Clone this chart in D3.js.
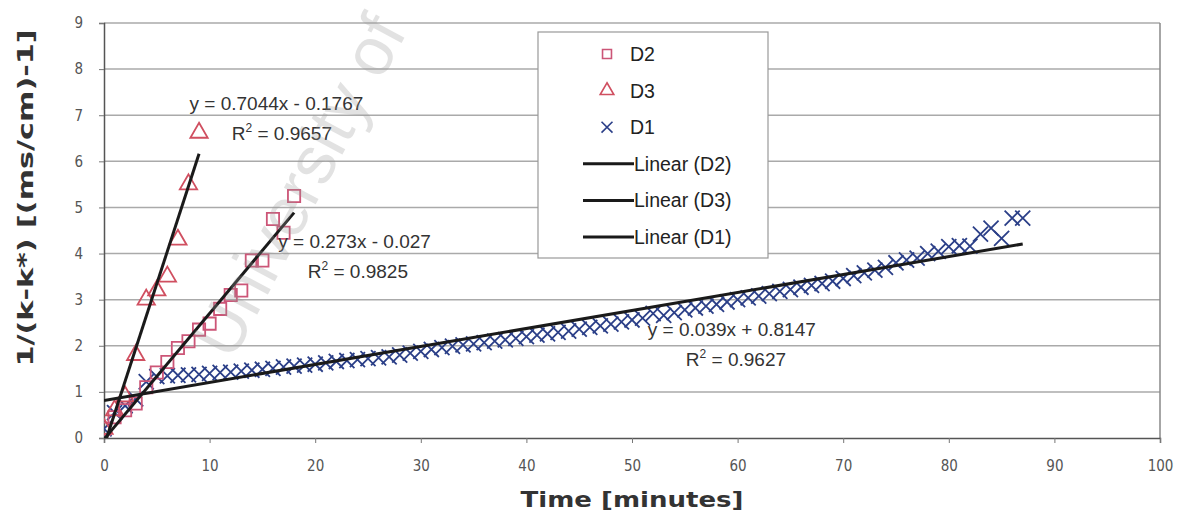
<!DOCTYPE html>
<html>
<head>
<meta charset="utf-8">
<script src="https://cdn.jsdelivr.net/npm/d3@7"></script>
<style>
  body { margin: 0; background: #fff; }
  text { font-family: "Liberation Sans", Arial, sans-serif; }
  .tick text { fill: #555; font-size: 15px; font-family: "Liberation Sans Narrow", "DejaVu Sans Condensed", sans-serif; }
  .title { font-family: "DejaVu Sans", Verdana, sans-serif; font-weight: bold; font-size: 21px; fill: #333; }
  .eq { font-size: 19px; fill: #333; }
  .leg { font-size: 19.5px; fill: #222; }
</style>
</head>
<body>
<div id="chart"></div>
<script>
// D2 squares
var d2X = [0,1,2,3,4,5,6,7,8,9,10,11,12,13,14,15,16,17,18];
var d2Y = [0.2,0.45,0.6,0.75,1.1,1.42,1.65,1.95,2.1,2.35,2.48,2.8,3.1,3.2,3.85,3.85,4.75,4.45,5.25];

// D3 triangles
var d3X = [0,1,2,3,4,5,6,7,8,9];
var d3Y = [0.2,0.6,0.9,1.8,3.0,3.2,3.5,4.3,5.5,6.62];

// D1 crosses
var d1X = [];
for (var i = 0; i <= 87; i++) d1X.push(i);
var d1Y = [0.2,0.55,0.7,0.85,1.22,1.33,1.35,1.36,1.37,1.38,
           1.4,1.42,1.43,1.45,1.47,1.49,1.51,1.54,1.56,1.58,
           1.6,1.63,1.66,1.68,1.7,1.72,1.74,1.76,1.8,1.84,
           1.88,1.92,1.96,1.99,2.02,2.04,2.07,2.1,2.13,2.16,
           2.2,2.23,2.26,2.29,2.32,2.36,2.4,2.43,2.47,2.52,
           2.56,2.6,2.7,2.66,2.72,2.78,2.82,2.86,2.9,2.95,
           3.0,3.04,3.08,3.13,3.18,3.22,3.27,3.31,3.35,3.4,
           3.46,3.52,3.58,3.64,3.7,3.8,3.86,3.9,4.0,4.05,
           4.15,4.17,4.16,4.42,4.55,4.33,4.77,4.77];

// trendlines: [slope, intercept, xmin, xmax]
var fits = {
  D2: [0.273, -0.027, 0, 18],
  D3: [0.7044, -0.1767, 0, 9],
  D1: [0.039, 0.8147, 0, 87]
};
var eqLabels = [
  {eq: "y = 0.7044x - 0.1767", r2: "0.9657", x: 8.1, y: 7.11, r2x: 12.1, r2y: 6.46},
  {eq: "y = 0.273x - 0.027", r2: "0.9825", x: 16.5, y: 4.12, r2x: 19.3, r2y: 3.47},
  {eq: "y = 0.039x + 0.8147", r2: "0.9627", x: 51.5, y: 2.21, r2x: 55.1, r2y: 1.56}
];
var xTicks = [0,10,20,30,40,50,60,70,80,90,100];
var yTicks = [0,1,2,3,4,5,6,7,8,9];

var pink = "#cc5577", navy = "#2b3f88";

var margin = {top: 23, right: 32, bottom: 82, left: 104},
    width = 1192 - margin.left - margin.right,
    height = 520 - margin.top - margin.bottom;

var svg = d3.select("#chart").append("svg")
    .attr("width", 1192)
    .attr("height", 520);

var g = svg.append("g")
    .attr("transform", "translate(" + margin.left + "," + margin.top + ")");

var x = d3.scaleLinear().domain([0, 100]).range([0, width]);
var y = d3.scaleLinear().domain([0, 9]).range([height, 0]);

g.append("clipPath").attr("id", "clip")
  .append("rect").attr("width", width).attr("height", height);

// gridlines
g.selectAll(".grid").data(yTicks.slice(1))
  .enter().append("line")
    .attr("x1", 0).attr("x2", width)
    .attr("y1", function(d) { return y(d); })
    .attr("y2", function(d) { return y(d); })
    .attr("stroke", "#aaa").attr("stroke-width", 1.5);

g.append("line").attr("x1", width).attr("x2", width).attr("y1", 0).attr("y2", height)
  .attr("stroke", "#888").attr("stroke-width", 1.5);

var xAxis = g.append("g")
    .attr("transform", "translate(0," + height + ")")
    .call(d3.axisBottom(x).tickValues(xTicks).tickSize(5).tickPadding(17));
var yAxis = g.append("g")
    .call(d3.axisLeft(y).tickValues(yTicks).tickSize(5).tickPadding(16));
[xAxis, yAxis].forEach(function(a) {
  a.select(".domain").attr("stroke", "#555").attr("stroke-width", 1.5);
  a.selectAll(".tick line").attr("stroke", "#777");
});

var plot = g.append("g").attr("clip-path", "url(#clip)");

// markers
var sq = d3.symbol().type(d3.symbolSquare).size(150);
var tri = d3.symbol().type(d3.symbolTriangle).size(130);
var crs = d3.symbol().type(d3.symbolX).size(150);

function zip(xs, ys) { return xs.map(function(v, i) { return [v, ys[i]]; }); }

plot.selectAll(".d1").data(zip(d1X, d1Y)).enter().append("path")
    .attr("d", crs)
    .attr("transform", function(d) { return "translate(" + x(d[0]) + "," + y(d[1]) + ")"; })
    .attr("fill", "none").attr("stroke", navy).attr("stroke-width", 1.8);

plot.selectAll(".d2").data(zip(d2X, d2Y)).enter().append("path")
    .attr("d", sq)
    .attr("transform", function(d) { return "translate(" + x(d[0]) + "," + y(d[1]) + ")"; })
    .attr("fill", "none").attr("stroke", pink).attr("stroke-width", 1.8);

plot.selectAll(".d3").data(zip(d3X, d3Y)).enter().append("path")
    .attr("d", tri)
    .attr("transform", function(d) { return "translate(" + x(d[0]) + "," + y(d[1]) + ")"; })
    .attr("fill", "none").attr("stroke", "#d04f60").attr("stroke-width", 1.8);

// trendlines
Object.keys(fits).forEach(function(k) {
  var f = fits[k];
  plot.append("line")
    .attr("x1", x(f[2])).attr("y1", y(f[0] * f[2] + f[1]))
    .attr("x2", x(f[3])).attr("y2", y(f[0] * f[3] + f[1]))
    .attr("stroke", "#1a1a1a").attr("stroke-width", 3);
});

// equation labels
eqLabels.forEach(function(d) {
  g.append("text").attr("class", "eq")
    .attr("x", x(d.x)).attr("y", y(d.y)).text(d.eq);
  var t = g.append("text").attr("class", "eq")
    .attr("x", x(d.r2x)).attr("y", y(d.r2y));
  t.append("tspan").text("R");
  t.append("tspan").attr("dy", -8).attr("font-size", 12).text("2");
  t.append("tspan").attr("dy", 8).text(" = " + d.r2);
});

// legend
var leg = svg.append("g").attr("transform", "translate(538,32)");
leg.append("rect").attr("width", 230).attr("height", 226)
  .attr("fill", "#fff").attr("stroke", "#999").attr("stroke-width", 1.2);
var legItems = [
  {name: "D2", sym: sq, color: pink},
  {name: "D3", sym: tri, color: "#d04f60"},
  {name: "D1", sym: crs, color: navy},
  {name: "Linear (D2)"},
  {name: "Linear (D3)"},
  {name: "Linear (D1)"}
];
legItems.forEach(function(d, i) {
  var cy = 22 + i * 36.6;
  if (d.sym) {
    leg.append("path").attr("d", d.sym.size(80)())
      .attr("transform", "translate(69," + cy + ")")
      .attr("fill", "none").attr("stroke", d.color).attr("stroke-width", 1.6);
    leg.append("text").attr("class", "leg").attr("x", 92).attr("y", cy + 7).text(d.name);
  } else {
    leg.append("line").attr("x1", 45).attr("x2", 96).attr("y1", cy).attr("y2", cy)
      .attr("stroke", "#1a1a1a").attr("stroke-width", 3);
    leg.append("text").attr("class", "leg").attr("x", 96).attr("y", cy + 7).text(d.name);
  }
});

// watermark
svg.append("text")
  .attr("transform", "translate(232,362) rotate(-62)")
  .attr("font-size", 68).attr("fill", "#999").attr("opacity", 0.28)
  .text("University of");

// axis titles
svg.append("text").attr("class", "title")
  .attr("x", margin.left + width / 2).attr("y", 507)
  .attr("text-anchor", "middle")
  .attr("textLength", 223).attr("lengthAdjust", "spacingAndGlyphs")
  .text("Time [minutes]");
svg.append("text").attr("class", "title")
  .attr("transform", "translate(33,198) rotate(-90)")
  .attr("text-anchor", "middle")
  .attr("textLength", 337).attr("lengthAdjust", "spacingAndGlyphs")
  .text("1/(k-k*) [(ms/cm)-1]");
</script>
</body>
</html>
